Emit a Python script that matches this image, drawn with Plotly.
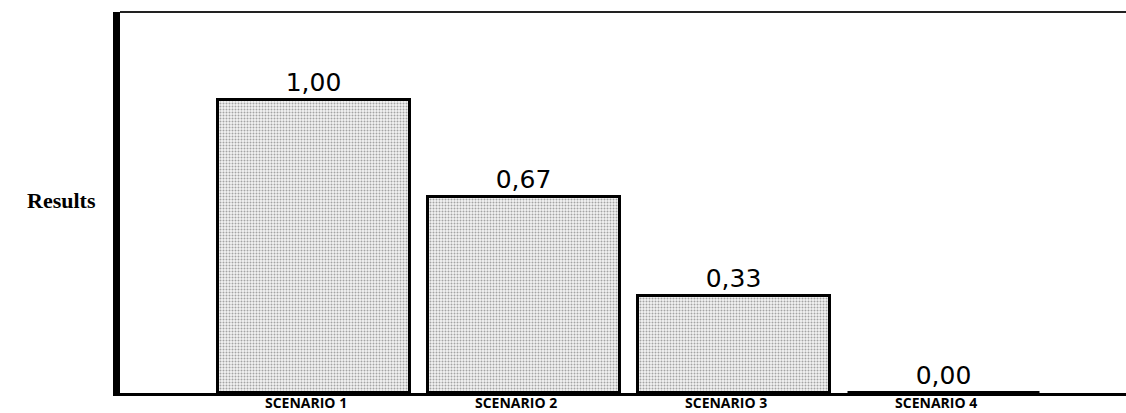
import plotly.graph_objects as go

categories = ["SCENARIO 1", "SCENARIO 2", "SCENARIO 3", "SCENARIO 4"]
values = [1.00, 0.67, 0.33, 0.00]
value_labels = ["1,00", "0,67", "0,33", "0,00"]
y_title = "Results"

fig = go.Figure()
fig.add_trace(go.Bar(
    x=categories,
    y=values,
    width=0.915,
    text=value_labels,
    textposition="outside",
    cliponaxis=False,
    textfont=dict(family="DejaVu Sans", size=25, color="black"),
    marker=dict(
        color="white",
        line=dict(color="black", width=3),
        pattern=dict(shape=".", fgcolor="#555555", bgcolor="#f2f2f2", size=3, solidity=0.35),
    ),
))

fig.update_layout(
    width=1126, height=413,
    margin=dict(l=120, r=0, t=12, b=20),
    paper_bgcolor="white", plot_bgcolor="white",
    showlegend=False,
    bargap=0,
    xaxis=dict(
        range=[-0.924, 3.866],
        automargin=False,
        showline=True, linecolor="black", linewidth=3,
        showgrid=False, ticks="",
        tickfont=dict(family="Open Sans", size=14, color="black", weight="bold"),
        ticklabelshift=-8, ticklabelstandoff=-5,
    ),
    yaxis=dict(
        range=[0, 1.30],
        automargin=False,
        showline=True, linecolor="black", linewidth=7,
        showgrid=False, showticklabels=False, ticks="", zeroline=False,
    ),
    shapes=[dict(type="line", xref="paper", yref="paper", x0=0, x1=1, y0=1, y1=1,
                 line=dict(color="#222222", width=2))],
    annotations=[dict(text="<b>" + y_title + "</b>", xref="paper", yref="paper",
                      x=0, y=0.505, xanchor="right", yanchor="middle", xshift=-22,
                      showarrow=False,
                      font=dict(family="Liberation Serif", size=22, color="black"))],
)

fig.write_html("out.html",
               config={"displayModeBar": False},
               post_script="document.body.style.margin='0';document.body.style.overflow='hidden';")
